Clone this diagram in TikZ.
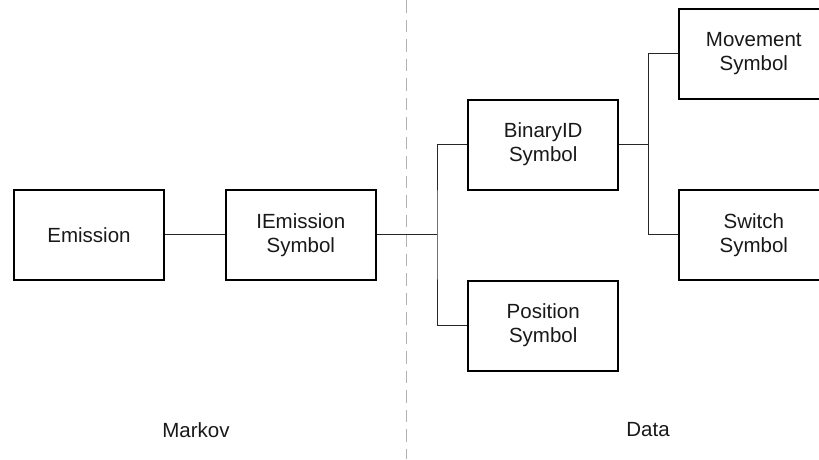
\documentclass[tikz,border=0pt]{standalone}
\usepackage{fontspec}
\setmainfont{Liberation Sans}
\begin{document}
\begin{tikzpicture}[x=1pt,y=-1pt,
  box/.style={draw=black,line width=2pt,minimum width=150pt,minimum height=90pt,inner sep=0pt,align=center,text=black!90,font=\fontsize{20.5}{24}\selectfont},
  lbl/.style={inner sep=0pt,text=black!90,font=\fontsize{20.5}{24}\selectfont},
  conn/.style={draw=black!85,line width=0.9pt},
  divider/.style={draw=black!30,line width=1pt,dash pattern=on 12.5pt off 7pt}]
\useasboundingbox (0,0) rectangle (819,459);
\clip (0,0) rectangle (819,459);
\fill[white] (0,0) rectangle (819,459);
\coordinate (dtop) at (406.5,0);
\coordinate (dbot) at (406.5,459);
\draw[divider] (dtop) -- (dbot);
\node[box] (em) at (89,234.8) {Emission};
\node[box] (iem) at (300.8,234.8) {IEmission\\Symbol};
\node[box] (bin) at (543.2,144.5) {BinaryID\\Symbol};
\node[box] (pos) at (543.2,325.5) {Position\\Symbol};
\node[box] (mov) at (753.8,53.6) {Movement\\Symbol};
\node[box] (swi) at (753.8,234.8) {Switch\\Symbol};
\node[lbl] (markov) at (196,430) {Markov};
\node[lbl] (data) at (648,430) {Data};
\coordinate (j1) at (437,234.8);
\coordinate (j2) at (648.3,144.5);
\draw[conn] (em) -- (iem);
\draw[conn] (iem) -- (j1);
\draw[conn] (bin.west) -| (j1) |- (pos.west);
\draw[conn] (bin) -- (j2);
\draw[conn] (mov.west) -| (j2) |- (swi.west);
\end{tikzpicture}
\end{document}
